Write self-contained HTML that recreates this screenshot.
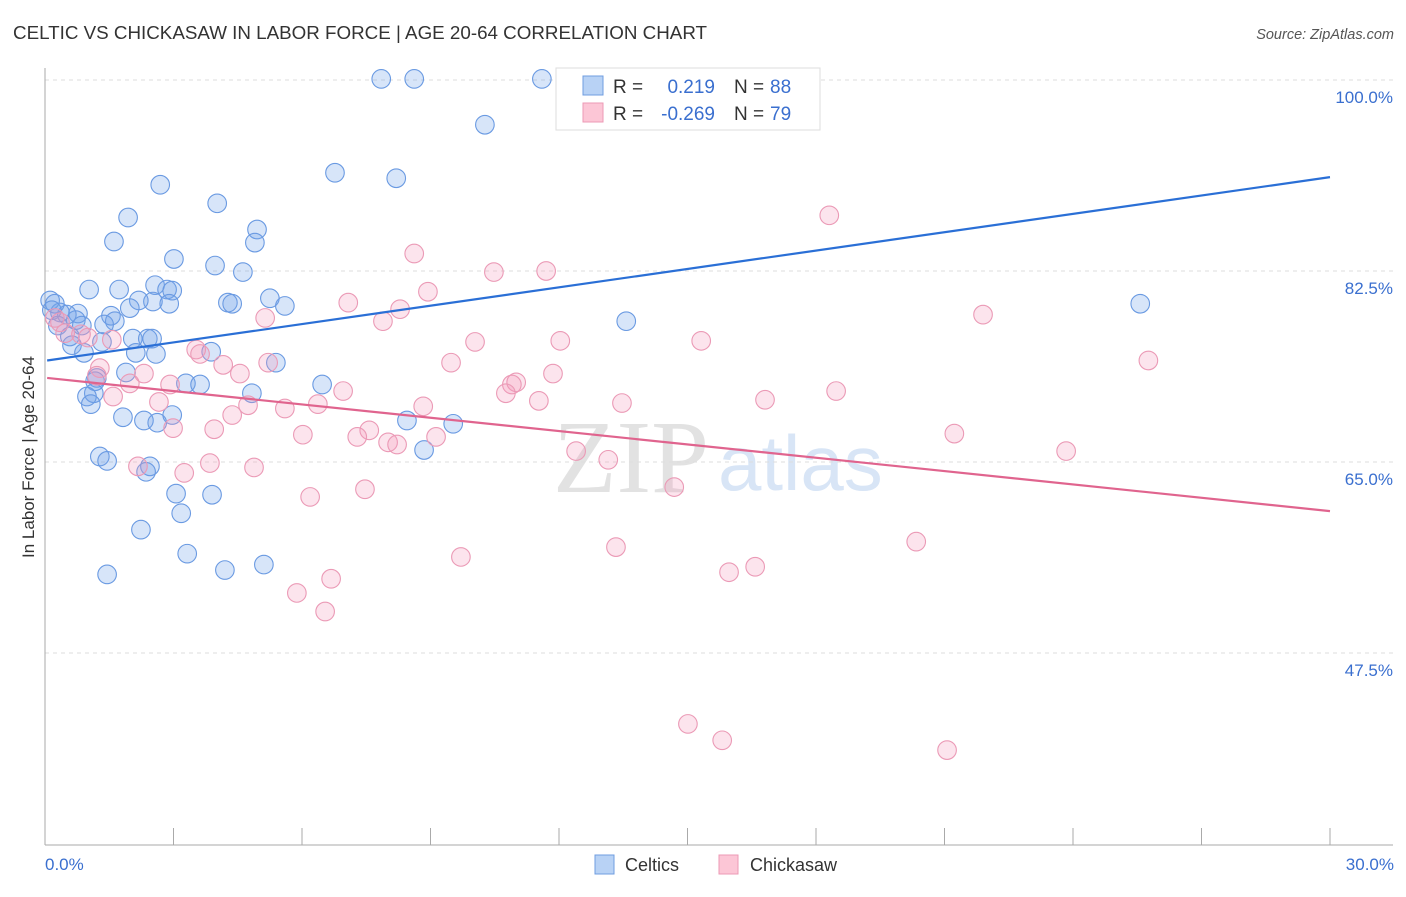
<!DOCTYPE html>
<html><head><meta charset="utf-8"><style>
body{margin:0;background:#fff;font-family:"Liberation Sans",sans-serif}
</style></head><body>
<svg id="chart" width="1406" height="892" xmlns="http://www.w3.org/2000/svg" font-family="Liberation Sans, sans-serif">
<text x="13" y="39" font-size="18.8" fill="#333">CELTIC VS CHICKASAW IN LABOR FORCE | AGE 20-64 CORRELATION CHART</text>
<text x="1394" y="39" font-size="14.5" fill="#555" font-style="italic" text-anchor="end">Source: ZipAtlas.com</text>
<g>
<text x="553" y="492" font-size="104" fill="#e2e2e2" font-family="Liberation Serif, serif">ZIP</text>
<text x="718" y="490" font-size="78" fill="#d8e5f6">atlas</text>
</g>
<g id="grid"></g>
<g id="axes"></g>
<g id="blue"></g>
<g id="pink"></g>
<g id="trends"></g>
<text transform="translate(34,457) rotate(-90)" font-size="17" fill="#333" text-anchor="middle">In Labor Force | Age 20-64</text>
<text x="45" y="870" font-size="17" fill="#3a6fcf">0.0%</text>
<text x="1394" y="870" font-size="17" fill="#3a6fcf" text-anchor="end">30.0%</text>
<g>
<rect x="556" y="68" width="264" height="62" fill="#fff" stroke="#ddd"/>
<rect x="583" y="76" width="20" height="19" fill="#b8d2f5" stroke="#6f9de0"/>
<rect x="583" y="103" width="20" height="19" fill="#fcc6d6" stroke="#ec9ab5"/>
<text x="613" y="93" font-size="19" fill="#333">R =</text>
<text x="715" y="93" font-size="19" fill="#3a6fcf" text-anchor="end">0.219</text>
<text x="734" y="93" font-size="19" fill="#333">N =</text>
<text x="770" y="93" font-size="19" fill="#3a6fcf">88</text>
<text x="613" y="120" font-size="19" fill="#333">R =</text>
<text x="715" y="120" font-size="19" fill="#3a6fcf" text-anchor="end">-0.269</text>
<text x="734" y="120" font-size="19" fill="#333">N =</text>
<text x="770" y="120" font-size="19" fill="#3a6fcf">79</text>
</g>
<g>
<rect x="595" y="855" width="19" height="19" fill="#b8d2f5" stroke="#6f9de0"/>
<text x="625" y="871" font-size="18" fill="#333">Celtics</text>
<rect x="719" y="855" width="19" height="19" fill="#fcc6d6" stroke="#ec9ab5"/>
<text x="750" y="871" font-size="18" fill="#333">Chickasaw</text>
</g>
</svg>
<script>
const yTicks=[100,82.5,65,47.5];
const yTickLabels=["100.0%","82.5%","65.0%","47.5%"];
const xTicks=[0,3,6,9,12,15,18,21,24,27,30];
const celticX=[7.85,8.62,11.6,10.27,6.77,8.2,2.69,4.02,1.94,4.95,1.61,4.9,3.01,3.97,4.62,2.57,1.03,1.73,2.85,2.97,5.25,4.27,4.37,5.6,2.52,2.19,2.9,1.98,25.57,13.57,1.54,1.63,1.38,0.77,0.72,0.51,0.35,0.12,0.23,0.16,0.3,0.86,0.58,0.63,1.33,2.05,2.4,2.5,2.12,2.59,3.88,5.39,0.91,1.21,1.89,1.17,3.29,3.62,4.83,6.47,1.14,0.98,1.07,1.82,2.97,2.31,2.62,8.45,9.53,8.85,1.28,1.45,2.45,2.36,3.06,3.9,3.18,2.24,3.32,1.45,4.2,5.11];
const celticY=[100.1,100.1,100.1,95.9,91.5,91.0,90.4,88.7,87.4,86.3,85.2,85.1,83.6,83.0,82.4,81.2,80.8,80.8,80.8,80.7,80.0,79.6,79.5,79.3,79.7,79.8,79.5,79.1,79.5,77.9,78.4,77.9,77.6,78.6,78.0,78.5,78.7,79.8,79.5,78.9,77.5,77.5,76.5,75.7,76.0,76.3,76.3,76.3,75.0,74.9,75.1,74.1,75.0,72.7,73.2,72.4,72.2,72.1,71.3,72.1,71.3,71.0,70.3,69.1,69.3,68.8,68.6,68.8,68.5,66.1,65.5,65.1,64.6,64.1,62.1,62.0,60.3,58.8,56.6,54.7,55.1,55.6];
const chickX=[18.31,8.62,11.7,10.48,8.94,7.08,8.29,21.9,5.14,7.89,10.04,12.03,15.32,25.76,1.0,1.56,0.84,3.53,3.62,4.16,5.21,1.28,1.21,2.31,4.55,9.48,11.86,11.0,10.9,1.98,2.92,6.96,10.76,18.47,1.59,4.74,5.6,11.53,13.47,16.81,8.83,2.66,4.37,6.37,7.57,2.99,3.95,6.02,7.29,8.01,8.22,9.13,21.23,23.84,12.4,13.15,3.85,2.17,4.88,3.25,14.69,6.19,7.47,20.34,9.71,13.33,15.97,16.58,6.68,5.88,6.54,15.01,15.81,21.06,0.35,0.47,0.23];
const chickY=[87.6,84.1,82.5,82.4,80.6,79.6,79.0,78.5,78.2,77.9,76.0,76.1,76.1,74.3,76.4,76.2,76.7,75.3,74.9,73.9,74.1,73.6,72.9,73.1,73.1,74.1,73.1,72.3,72.1,72.2,72.1,71.5,71.3,71.5,71.0,70.2,69.9,70.6,70.4,70.7,70.1,70.5,69.3,70.3,67.9,68.1,68.0,67.5,67.3,66.8,66.6,67.3,67.6,66.0,66.0,65.2,64.9,64.6,64.5,64.0,62.7,61.8,62.5,57.7,56.3,57.2,54.9,55.4,54.3,53.0,51.3,41.0,39.5,38.6,77.8,76.8,78.2];
const celticTrend=[74.3,91.1];
const chickTrend=[72.7,60.5];
const NS="http://www.w3.org/2000/svg";
function sx(v){return 45+v*42.833;}
function sy(v){return 80+(100-v)*10.914;}
function mk(tag,attrs,parent){const e=document.createElementNS(NS,tag);for(const k in attrs)e.setAttribute(k,attrs[k]);parent.appendChild(e);return e;}
const grid=document.getElementById('grid');
yTicks.forEach((t,i)=>{
  const l=mk('line',{x1:45,x2:1393,y1:sy(t),y2:sy(t),stroke:'#ddd','stroke-dasharray':'4,4'},grid);
  
  
  const tx=mk('text',{x:1393,y:sy(t)+23,'font-size':17,fill:'#3a6fcf','text-anchor':'end'},grid);
  tx.textContent=yTickLabels[i];
  
  
});
const axes=document.getElementById('axes');
mk('line',{x1:45,x2:45,y1:68,y2:845,stroke:'#aaa'},axes);
mk('line',{x1:45,x2:1393,y1:845,y2:845,stroke:'#aaa'},axes);
xTicks.forEach(t=>{
  const l=mk('line',{x1:sx(t),x2:sx(t),y1:828,y2:845,stroke:'#aaa'},axes);
  
  
});
function pts(g,X,Y,fill,stroke,name){
  X.forEach((x,i)=>{
    const c=mk('circle',{cx:sx(x),cy:sy(Y[i]),r:9.3,fill:fill,stroke:stroke,'stroke-width':1.1},g);
    
    
  });
}
pts(document.getElementById('blue'),celticX,celticY,'rgba(110,160,235,0.28)','#6a9ae2','celtic-point');
pts(document.getElementById('pink'),chickX,chickY,'rgba(245,150,185,0.26)','#eb9ab6','chickasaw-point');
const tr=document.getElementById('trends');
const b=mk('line',{x1:sx(0.05),y1:sy(celticTrend[0]),x2:sx(30),y2:sy(celticTrend[1]),stroke:'#2a6fd6','stroke-width':2.2},tr);


const p=mk('line',{x1:sx(0.05),y1:sy(chickTrend[0]),x2:sx(30),y2:sy(chickTrend[1]),stroke:'#e0648e','stroke-width':2.2},tr);


</script>
</body></html>
